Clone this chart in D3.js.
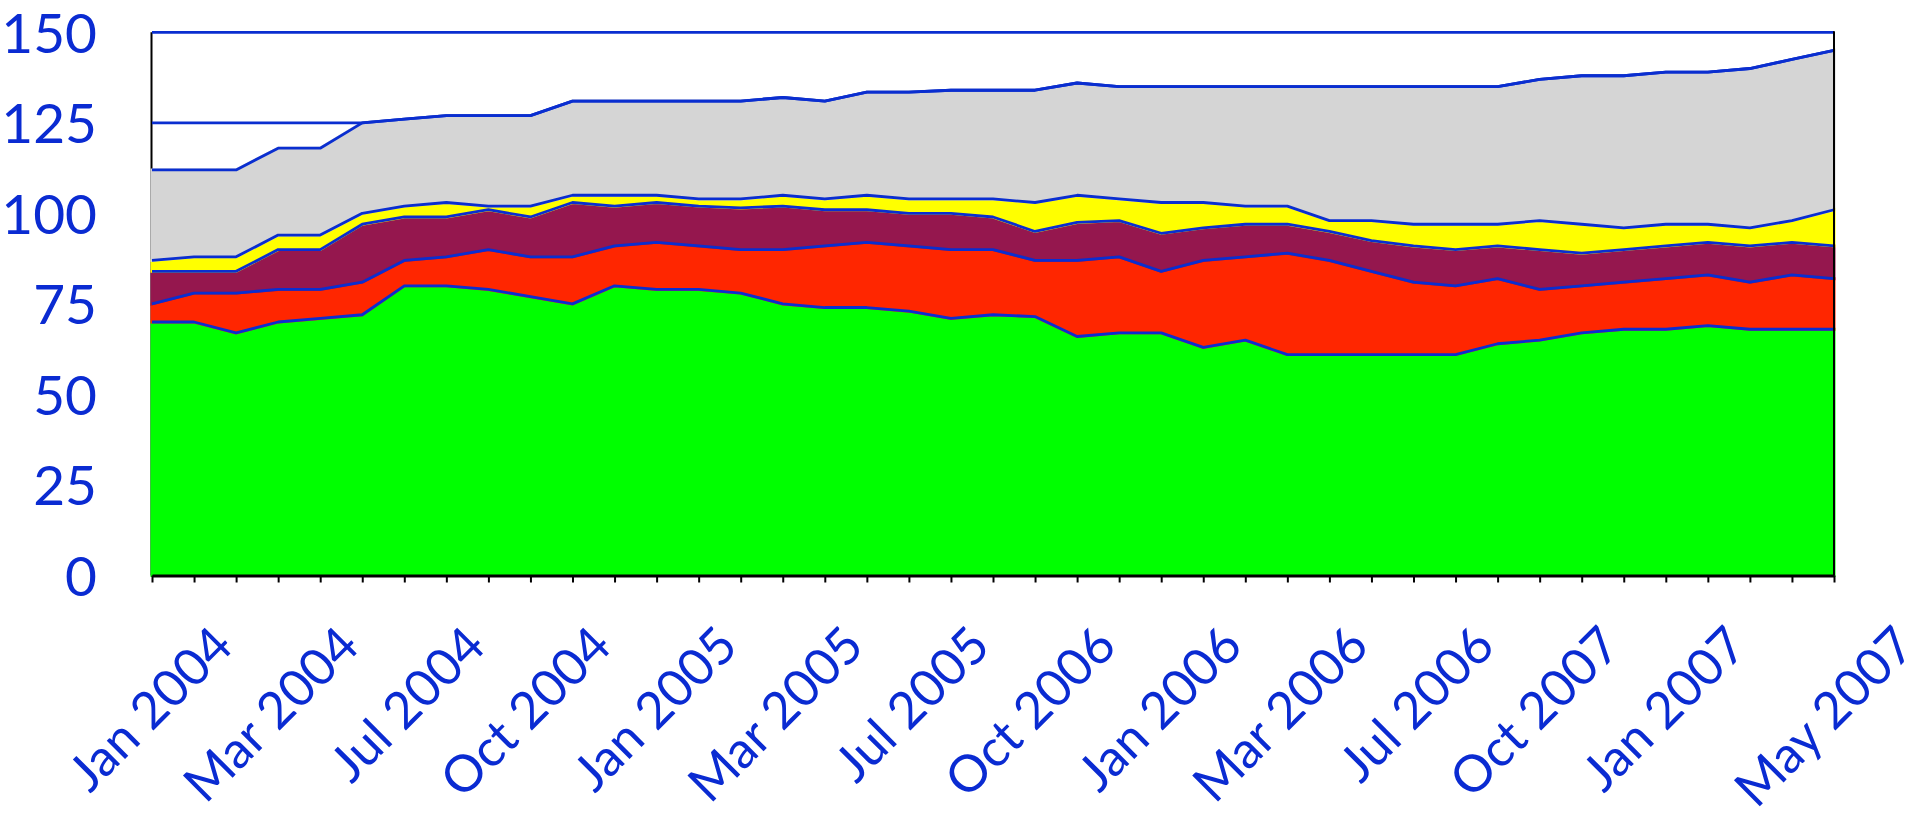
<!DOCTYPE html>
<html>
<head>
<meta charset="utf-8">
<script src="https://cdn.jsdelivr.net/npm/d3@7"></script>
<style>
  html, body { margin: 0; padding: 0; background: #fff; }
  svg { display: block; }
  .lbl text { font-family: Lato, "Open Sans", sans-serif; fill: #0a2bd2; }
</style>
</head>
<body>
<div id="chart"></div>
<script>
const width = 1924
const height = 822

// category labels (only every 3rd point is labelled, plus the last one)
const labelIndex = [0, 3, 6, 9, 12, 15, 18, 21, 24, 27, 30, 33, 36, 40]
const labelText = ["Jan 2004", "Mar 2004", "Jul 2004", "Oct 2004", "Jan 2005", "Mar 2005",
  "Jul 2005", "Oct 2006", "Jan 2006", "Mar 2006", "Jul 2006", "Oct 2007", "Jan 2007", "May 2007"]
const yTicks = [0, 25, 50, 75, 100, 125, 150]

// series values, 41 points each
const green = [70, 70, 67, 70, 71, 72, 80, 80, 79, 77, 75, 80, 79, 79, 78, 75, 74, 74, 73, 71, 72,
  71.5, 66, 67, 67, 63, 65, 61, 61, 61, 61, 61, 64, 65, 67, 68, 68, 69, 68, 68, 68]
const red = [5, 8, 11, 9, 8, 9, 7, 8, 11, 11, 13, 11, 13, 12, 12, 15, 17, 18, 18, 19, 18,
  15.5, 21, 21, 17, 24, 23, 28, 26, 23, 20, 19, 18, 14, 13, 13, 14, 14, 13, 15, 14]
const purple = [9, 6, 6, 11, 11, 16, 12, 11, 11, 11, 15, 11, 11, 11, 11.5, 12, 10, 9, 9, 10, 9,
  8, 10.5, 10, 10.5, 9, 9, 8, 8, 8.5, 10, 10, 9, 11, 9, 9, 9, 9, 10, 9, 9]
const yellow = [3, 4, 4, 4, 4, 3, 3, 4, 1, 3, 2, 3, 2, 2, 2.5, 3, 3, 4, 4, 4, 5,
  8, 7.5, 6, 8.5, 7, 5, 5, 3, 5.5, 6, 7, 6, 8, 8, 6, 6, 5, 5, 6, 10]
const gray = [25, 24, 24, 24, 24, 25, 24, 24, 25, 25, 26, 26, 26, 27, 27, 27, 27, 28.5, 29.5, 30, 30,
  31, 31, 31, 32, 32, 33, 33, 37, 37, 38, 38, 38, 39, 41, 42, 42, 42, 44, 44.5, 44]
const headroom = [13, 13, 13, 7, 7, 0, 0, 0, 0, 0, 0, 0, 0, 0, 0, 0, 0, 0, 0, 0, 0,
  0, 0, 0, 0, 0, 0, 0, 0, 0, 0, 0, 0, 0, 0, 0, 0, 0, 0, 0, 0]

const keys = ["green", "red", "purple", "yellow", "gray", "headroom"]
const fills = { green: "#00ff00", red: "#ff2600", purple: "#95174e", yellow: "#ffff00", gray: "#d5d5d5", headroom: "none" }
const lineColor = "#0a2ed0"

const rows = green.map((d, i) => ({
  i: i, green: d, red: red[i], purple: purple[i], yellow: yellow[i], gray: gray[i], headroom: headroom[i]
}))
const series = d3.stack().keys(keys)(rows)

const svg = d3.select("#chart").append("svg")
  .attr("width", width)
  .attr("height", height)

const x = d3.scaleLinear().domain([0, green.length - 1]).range([152, 1834])
const y = d3.scaleLinear().domain([0, 150]).range([575.5, 32.3])

// left axis line (mostly hidden behind the areas)
svg.append("line")
  .attr("x1", x(0) - 0.5).attr("x2", x(0) - 0.5)
  .attr("y1", y(150)).attr("y2", y(0))
  .attr("stroke", "#000").attr("stroke-width", 2)

const area = d3.area()
  .x(d => x(d.data.i))
  .y0(d => y(d[0]))
  .y1(d => y(d[1]))

svg.append("g")
  .selectAll("path")
  .data(series.filter(s => fills[s.key] !== "none"))
  .join("path")
  .attr("d", area)
  .attr("fill", s => fills[s.key])
  .attr("stroke", s => fills[s.key])
  .attr("stroke-width", 3)

// blue outline on top of every layer
const line = d3.line()
  .x(d => x(d.data.i))
  .y(d => y(d[1]))

svg.append("g")
  .selectAll("path")
  .data(series)
  .join("path")
  .attr("d", line)
  .attr("fill", "none")
  .attr("stroke", lineColor)
  .attr("stroke-width", 2.8)
  .attr("stroke-linejoin", "round")

// top frame line at 150
svg.append("line")
  .attr("x1", x(0)).attr("x2", x(green.length - 1))
  .attr("y1", y(150)).attr("y2", y(150))
  .attr("stroke", lineColor).attr("stroke-width", 2.8)

// right frame line
svg.append("line")
  .attr("x1", x(green.length - 1)).attr("x2", x(green.length - 1))
  .attr("y1", y(150) - 1).attr("y2", y(0))
  .attr("stroke", "#000").attr("stroke-width", 2)

// y axis labels
const yAxis = d3.axisLeft(y).tickValues(yTicks).tickSize(0).tickPadding(55)
const gy = svg.append("g")
  .attr("class", "lbl")
  .attr("transform", "translate(" + x(0) + ",0)")
  .call(yAxis)
gy.select(".domain").remove()
gy.selectAll("text").style("font-size", "55px").attr("dy", "0.36em")

// x axis with a tick on every point
const xAxis = d3.axisBottom(x)
  .tickValues(d3.range(green.length))
  .tickSize(7)
  .tickSizeOuter(0)
  .tickFormat(i => {
    const k = labelIndex.indexOf(i)
    return k >= 0 ? labelText[k] : ""
  })
const gx = svg.append("g")
  .attr("class", "lbl")
  .attr("transform", "translate(0," + y(0) + ")")
  .call(xAxis)
gx.select(".domain").attr("stroke", "#000").attr("stroke-width", 3)
gx.selectAll(".tick line").attr("stroke", "#000").attr("stroke-width", 2)
gx.selectAll(".tick text")
  .attr("x", 0).attr("y", 0).attr("dy", null)
  .style("font-size", "51px")
  .style("text-anchor", "end")
  .attr("transform", "translate(83,73) rotate(-45)")
</script>
</body>
</html>
